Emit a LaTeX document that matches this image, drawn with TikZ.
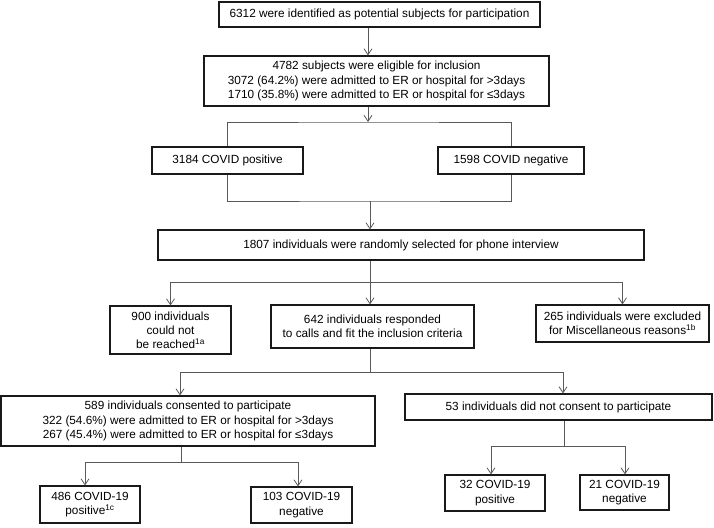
\documentclass[tikz,border=0pt]{standalone}
\usepackage{fontspec}
\setmainfont{Liberation Sans}
\usetikzlibrary{arrows.meta}

\begin{document}
\begin{tikzpicture}[x=1pt, y=-1pt,
    box/.style={draw=black!90, line width=1.1pt, rectangle, inner sep=0pt, align=center,
      font=\fontsize{11.8}{14.2}\selectfont},
    line/.style={draw=black!65, line width=0.8pt},
    arr/.style={line, -{Straight Barb[length=6pt, width=8pt]}}]

\useasboundingbox (0,0) rectangle (714,527);

% boxes
\node[box, minimum width=321, minimum height=25] (ident) at (379.5,14.5)
  {6312 were identified as potential subjects for participation};
\node[box, minimum width=345, minimum height=50] (elig) at (376.5,81)
  {4782 subjects were eligible for inclusion\\
   3072 (64.2\%) were admitted to ER or hospital for >3days\\
   1710 (35.8\%) were admitted to ER or hospital for ≤3days};
\node[box, minimum width=151, minimum height=27] (pos) at (227.5,160.5) {3184 COVID positive};
\node[box, minimum width=146, minimum height=27] (neg) at (511,160.5) {1598 COVID negative};
\node[box, minimum width=486, minimum height=30] (phone) at (401,245)
  {1807 individuals were randomly selected for phone interview};
\node[box, minimum width=121, minimum height=48] (unreach) at (170.5,330)
  {900 individuals\\could not\\be reached\textsuperscript{1a}};
\node[box, minimum width=203, minimum height=43] (resp) at (372.5,326.5)
  {642 individuals responded\\to calls and fit the inclusion criteria};
\node[box, minimum width=173, minimum height=37] (excl) at (622.5,323.5)
  {265 individuals were excluded\\for Miscellaneous reasons\textsuperscript{1b}};
\node[box, minimum width=374, minimum height=50] (cons) at (188,421)
  {589 individuals consented to participate\\
   322 (54.6\%) were admitted to ER or hospital for >3days\\
   267 (45.4\%) were admitted to ER or hospital for ≤3days};
\node[box, minimum width=307, minimum height=26] (nocons) at (558.5,407)
  {53 individuals did not consent to participate};
\node[box, minimum width=100, minimum height=37] (cpos) at (90,504.5)
  {486 COVID-19\\positive\textsuperscript{1c}};
\node[box, minimum width=101, minimum height=36] (cneg) at (301.5,505)
  {103 COVID-19\\negative};
\node[box, minimum width=100, minimum height=36] (npos) at (495,493)
  {32 COVID-19\\positive};
\node[box, minimum width=89, minimum height=35] (nneg) at (624.5,492.5)
  {21 COVID-19\\negative};

% junctions
\coordinate (j1) at (368,122);
\coordinate (j2) at (370,201);
\coordinate (j3) at (370,282);
\coordinate (j4) at (370,372);
\coordinate (k9) at (180,372);
\coordinate (k10) at (563,372);
\coordinate (j5) at (181,462);
\coordinate (k11) at (85,462);
\coordinate (k12) at (298,462);
\coordinate (j6) at (564,446);
\coordinate (k13) at (491,446);
\coordinate (k14) at (625,446);

% connectors
\draw[arr] (ident.south -| j1) -- (elig.north -| j1);
\draw[arr] (elig.south -| j1) -- (j1);
\draw[line] (pos.north) |- (j1) -| (neg.north);

\draw[line] (pos.south) |- (j2) -| (neg.south);
\draw[arr] (j2) -- (phone.north -| j2);

\draw[line] (phone.south -| j3) -- (j3);
\draw[arr] (j3) -| (unreach.north);
\draw[arr] (j3) -- (resp.north -| j3);
\draw[arr] (j3) -| (excl.north);

\draw[line] (resp.south -| j4) -- (j4);
\draw[arr] (j4) -- (k9) -- (cons.north -| k9);
\draw[arr] (j4) -- (k10) -- (nocons.north -| k10);

\draw[line] (cons.south -| j5) -- (j5);
\draw[arr] (k11) -- (k12) -- (cneg.north -| k12);
\draw[arr] (k11) -- (cpos.north -| k11);

\draw[line] (nocons.south -| j6) -- (j6);
\draw[arr] (k14) -- (k13) -- (npos.north -| k13);
\draw[arr] (k13) -- (k14) -- (nneg.north -| k14);

\end{tikzpicture}
\end{document}
